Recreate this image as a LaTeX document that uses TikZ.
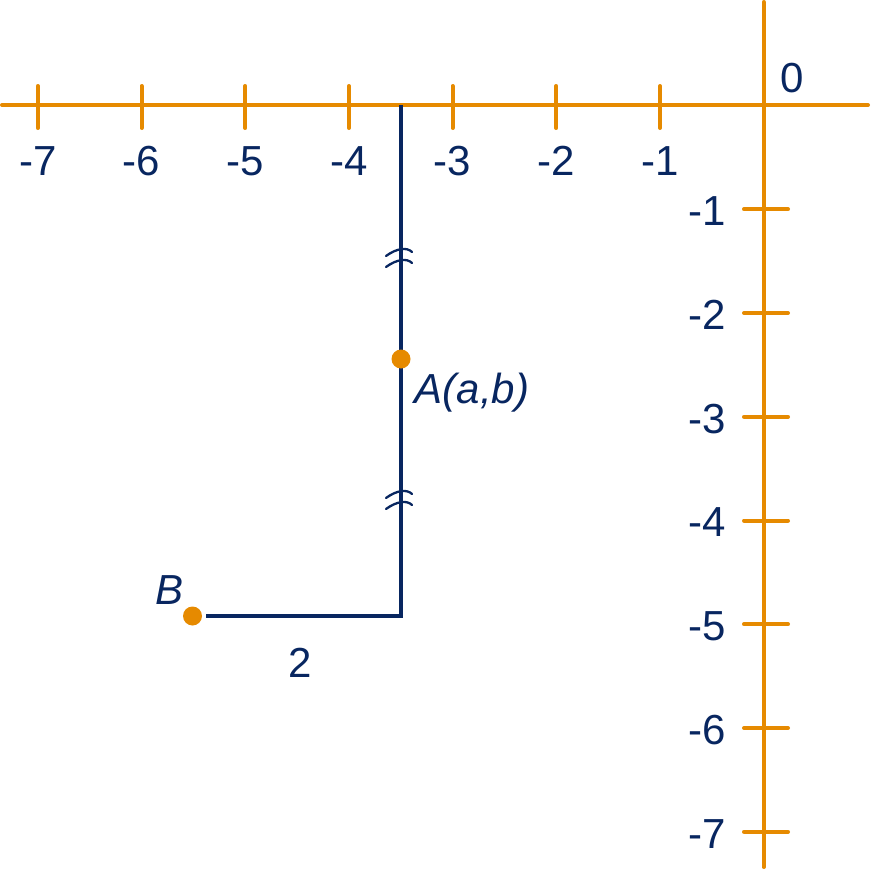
\documentclass[tikz,border=0pt]{standalone}
\usepackage{fontspec}
\setmainfont{Liberation Sans}
\definecolor{navy}{RGB}{8,38,96}
\definecolor{axisorange}{RGB}{230,138,0}
\begin{document}
\begin{tikzpicture}[x=1pt,y=-1pt,
  axis/.style={draw=axisorange, line width=4pt, line cap=round},
  tickmark/.style={draw=axisorange, line width=4pt, line cap=round},
  seg/.style={draw=navy, line width=3.7pt},
  brk/.style={draw=navy, line width=2.3pt, line cap=round},
  lbl/.style={text=navy, font=\fontsize{42}{50}\selectfont, inner sep=0pt},
  dot/.style={circle, fill=axisorange, minimum size=19pt, inner sep=0pt}]
\useasboundingbox (0,0) rectangle (870,870);
% axes
\coordinate (xl) at (2,105);
\coordinate (xr) at (868,105);
\coordinate (yt) at (763.7,2);
\coordinate (yb) at (763.7,867);
\draw[axis] (xl) -- (xr);
\draw[axis] (yt) -- (yb);
\foreach \k in {1,...,7} {
  \pgfmathsetmacro\xx{763.7-103.7*\k}
  \pgfmathsetmacro\yy{105.5+103.75*\k}
  \draw[tickmark] (\xx,86) -- (\xx,128);
  \draw[tickmark] (744,\yy) -- (788,\yy);
  \node[lbl] (xlab\k) at (\xx,161) {-\k};
  \node[lbl, anchor=east] (ylab\k) at (726,\yy+2) {-\k};
}
\node[lbl] (zero) at (792,78) {0};
% path
\coordinate (top) at (401,105);
\coordinate (corner) at (401,616);
\coordinate (hend) at (206,616);
\draw[seg] (top) -- (corner) -- (hend);
% break marks
\coordinate (m1) at (401,255);
\coordinate (m2) at (401,497);
\foreach \m in {m1,m2} {
  \foreach \d in {0,11} {
    \draw[brk] ([shift={(-15,1+\d)}]\m) .. controls ([shift={(-4,-7+\d)}]\m) and ([shift={(6,-8+\d)}]\m) .. ([shift={(11,-3+\d)}]\m);
  }
}
% points
\node[dot] (A) at (401,359) {};
\node[dot] (B) at (192.5,616) {};
\node[lbl] (Alab) at (472,393) {\itshape A(a,b)};
\node[lbl] (Blab) at (170,590) {\itshape B};
\node[lbl] (two) at (300,663) {2};
\end{tikzpicture}
\end{document}
